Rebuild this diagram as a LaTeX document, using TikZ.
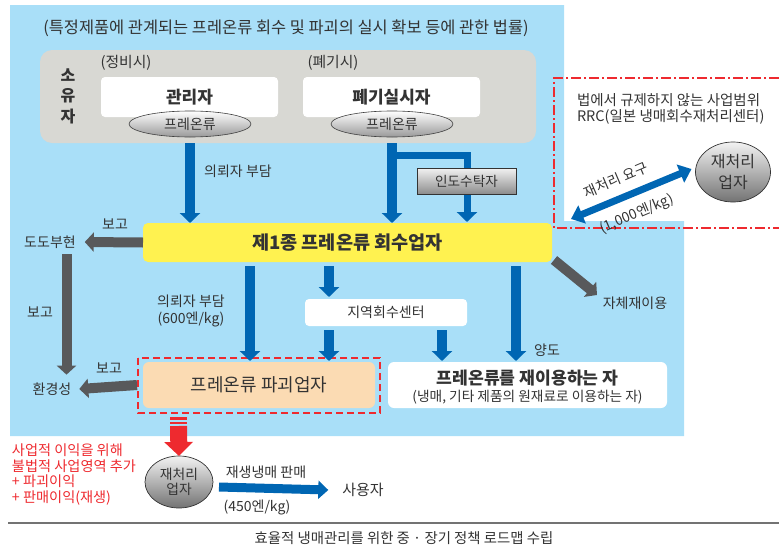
\documentclass[tikz,border=0pt]{standalone}
\usepackage{fontspec}
\setmainfont{Noto Sans CJK KR}
\usetikzlibrary{arrows.meta,shapes.geometric,calc}
\definecolor{bgblue}{HTML}{A9DFF8}
\definecolor{ownergray}{HTML}{D8D8D3}
\definecolor{arrblue}{HTML}{0066B3}
\definecolor{arrgray}{HTML}{58595B}
\definecolor{yel}{HTML}{FFF250}
\definecolor{peach}{HTML}{FBDBB3}
\definecolor{txt}{HTML}{333333}
\definecolor{redc}{HTML}{EE2A2F}
\newcommand{\fsz}[2]{\fontsize{#1}{#2}\selectfont}
\begin{document}
\begin{tikzpicture}[x=1pt,y=-1pt,
  every node/.style={text=txt, inner sep=0pt, outer sep=0pt},
  barrow/.style={draw=arrblue, line width=10, -{Triangle[width=20,length=10]}},
  garrow/.style={draw=arrgray, line width=10, -{Triangle[width=19,length=9]}},
  lbl/.style={font=\fsz{14}{16.5}, align=center},
  wbox/.style={fill=white, rounded corners=4},
  oval/.style={ellipse, draw=black!75, line width=0.6, top color=white, bottom color=black!40},
  ball/.style={ellipse, draw=black!80, line width=0.7, top color=black!5, bottom color=black!55, align=center},
]
\useasboundingbox (0,0) rectangle (779,549);
% background
\fill[bgblue] (10,5) -- (564,5) -- (564,221) -- (684,221) -- (684,436) -- (10,436) -- cycle;

% title
\node[font=\fsz{16.4}{18}] (title) at (286,28) {(특정제품에 관계되는 프레온류 회수 및 파괴의 실시 확보 등에 관한 법률)};

% owner box
\node[fill=ownergray, rounded corners=12, minimum width=496, minimum height=93] (owner) at (288,96.5) {};
\node[font=\fsz{16}{17}\bfseries] (so) at (68,75) {소};
\node[font=\fsz{16}{17}\bfseries] (yu) at (68,96) {유};
\node[font=\fsz{16}{17}\bfseries] (ja) at (68,117) {자};
\node[font=\fsz{14.8}{16}] (jb) at (126,63) {(정비시)};
\node[font=\fsz{14.8}{16}] (pg) at (333,63) {(폐기시)};
\node[wbox, minimum width=177, minimum height=40, font=\fsz{17}{19}\bfseries] (mgr) at (189.5,97) {관리자};
\node[wbox, minimum width=177, minimum height=40, font=\fsz{17}{19}\bfseries] (disp) at (391.5,97) {폐기실시자};
\node[oval, minimum width=122, minimum height=26, font=\fsz{14}{16}] (ell1) at (190,124) {프레온류};
\node[oval, minimum width=122, minimum height=26, font=\fsz{14}{16}] (ell2) at (392,124) {프레온류};

% collector
\node[fill=yel, rounded corners=5, minimum width=409, minimum height=39, font=\fsz{18.6}{20}\bfseries] (yel) at (347.5,242.5) {제1종 프레온류 회수업자};

% trustee box
\coordinate (brk) at ($(ell2.center |- owner.south)+(0,12)$);
\draw[draw=arrblue, line width=7, -{Triangle[width=20,length=10]}] (brk) -| (467,222);
\node[draw=black!80, line width=0.6, top color=black!5, bottom color=black!45, minimum width=99, minimum height=26, font=\fsz{13.6}{15}] (tak) at (466.5,181) {인도수탁자};

% arrows owner -> collector
\draw[barrow] (ell1.center |- owner.south) -- (ell1.center |- yel.north);
\draw[barrow] (ell2.center |- owner.south) -- (ell2.center |- yel.north);
\node[lbl] (fee1) at (238,171) {의뢰자 부담};

% prefecture & ministry
\node[lbl] (dodo) at (50,242) {도도부현};
\node[lbl] (hwan) at (52,389) {환경성};
\draw[garrow] (yel.west) -- ([xshift=9]dodo.east);
\node[lbl] (rep1) at (115,224) {보고};
\draw[garrow] ($(dodo.south)+(16.5,6)$) -- ($(hwan.north)+(14.5,-8)$);
\node[lbl] (rep2) at (40,312) {보고};

% regional center
\node[wbox, minimum width=162, minimum height=27, font=\fsz{14}{16}] (center) at (386,312.5) {지역회수센터};

% destroyer
\node[fill=peach, rounded corners=6, minimum width=232, minimum height=46, font=\fsz{18}{20}] (dest) at (259,385) {프레온류 파괴업자};
\draw[redc, line width=1.6, dash pattern=on 7 off 4] (138,358) rectangle (380,413);
\draw[garrow] (dest.west) ++(-6,0) -- ([xshift=8]hwan.east);
\node[lbl] (rep3) at (109,368) {보고};

% reuser
\node[wbox, rounded corners=6, minimum width=279, minimum height=46] (reuse) at (527.5,385) {};
\node[font=\fsz{17.2}{19}\bfseries] (reuse1) at (527.5,378) {프레온류를 재이용하는 자};
\node[font=\fsz{13.7}{15}] (reuse2) at (527.5,397) {(냉매, 기타 제품의 원재료로 이용하는 자)};

% arrows from collector
\coordinate (xa) at (250,0);
\coordinate (xb) at (329,0);
\coordinate (xc) at (442,0);
\coordinate (xd) at (516,0);
\draw[barrow] ($(yel.south -| xa)+(0,4)$) -- ($(dest.north -| xa)+(0,-1)$);
\node[lbl] (fee2) at (191,311) {의뢰자 부담\\(600엔/kg)};
\draw[barrow] ($(yel.south -| xb)+(0,4)$) -- ($(center.north -| xb)+(0,-2)$);
\draw[barrow] ($(center.south -| xb)+(0,4)$) -- ($(dest.north -| xb)+(0,-1)$);
\draw[barrow] ($(center.south -| xc)+(0,4)$) -- ($(reuse.north -| xc)+(0,-1)$);
\draw[barrow] ($(yel.south -| xd)+(0,4)$) -- ($(reuse.north -| xd)+(0,-1)$);
\node[lbl] (yang) at (547,350) {양도};
\draw[garrow] ($(yel.south east)+(2,-2)$) -- (597,295);
\node[lbl] (self) at (635,303) {자체재이용};

% unregulated area
\draw[redc, line width=1.6, dash pattern=on 10 off 3 on 2 off 3] (779,78) -- (554,78) -- (554,228) -- (779,228);
\node[font=\fsz{14.5}{16}, anchor=west] (law1) at (577,100) {법에서 규제하지 않는 사업범위};
\node[font=\fsz{14.5}{16}, anchor=west] (law2) at (577,117) {RRC(일본 냉매회수재처리센터)};
\node[ball, minimum width=75, minimum height=60, font=\fsz{16}{21}] (rp1) at (733,172) {재처리\\업자};
\coordinate (dblL) at (571,219);
\draw[draw=arrblue, line width=7, {Triangle[width=19,length=12]}-{Triangle[width=19,length=12]}] (dblL) -- ($(rp1.west)+(-4,-3)$);
\node[font=\fsz{14}{16}, rotate=23] (req) at (616,180) {재처리 요구};
\node[font=\fsz{14}{16}, rotate=23] (req2) at (637,214) {(1,000엔/kg)};

% illegal recycler
\node[ball, minimum width=68, minimum height=52, font=\fsz{13.8}{15.5}] (rp2) at (179,482) {재처리\\업자};
\fill[redc] (170,417) rectangle (187,419.5);
\fill[redc] (170,421.5) rectangle (187,424);
\draw[draw=redc, line width=17, -{Triangle[width=28,length=14]}] (178.5,426) -- (rp2.north);
\node[font=\fsz{14.2}{15.5}, text=redc, align=left, anchor=north west] (illegal) at (12,444) {사업적 이익을 위해\\불법적 사업영역 추가\\+ 파괴이익\\+ 판매이익(재생)};
\node[font=\fsz{15}{17}] (user) at (363,490) {사용자};
\draw[draw=arrblue, line width=9, -{Triangle[width=18,length=10]}] ($(rp2.east)+(6,5)$) -- ([xshift=-14]user.west);
\node[lbl] (sale) at (266,472) {재생냉매 판매};
\node[lbl] (price) at (257,507) {(450엔/kg)};

% footer
\draw[black!55, line width=2.5] (8,523) -- (779,523);
\node[font=\fsz{14.4}{16}] (cap) at (404,538) {효율적 냉매관리를 위한 중 · 장기 정책 로드맵 수립};
\end{tikzpicture}
\end{document}
